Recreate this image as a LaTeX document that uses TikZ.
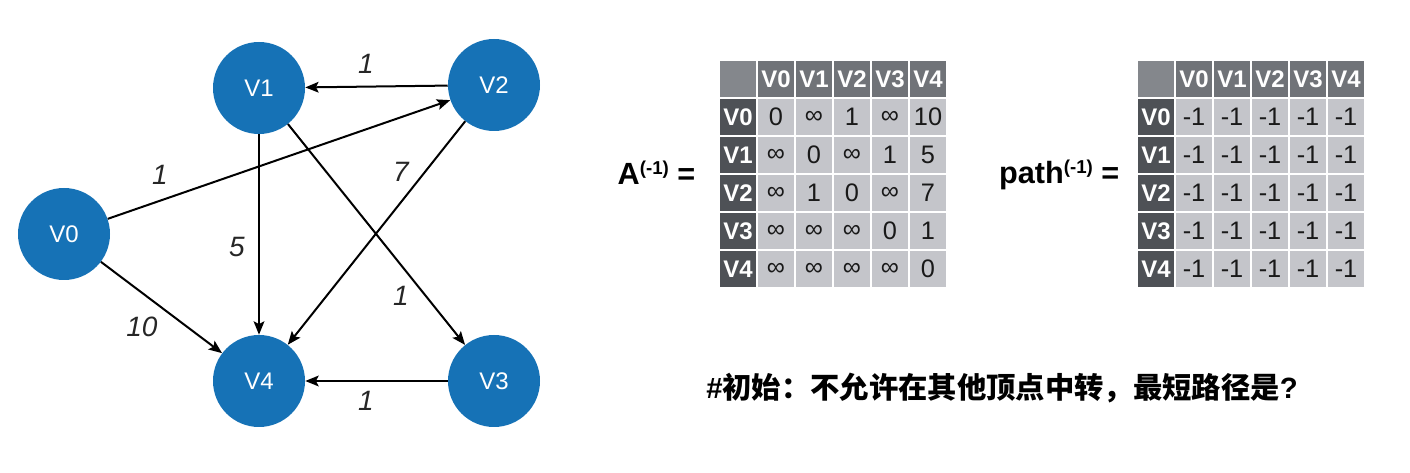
\documentclass[tikz,border=0pt]{standalone}
\usepackage{fontspec}
\setmainfont{Liberation Sans}
\newfontfamily\cjk{Noto Sans CJK SC}
\usetikzlibrary{arrows.meta}
\definecolor{nodeblue}{RGB}{22,114,182}
\definecolor{cornergray}{RGB}{132,135,140}
\definecolor{headgray}{RGB}{112,115,120}
\definecolor{rowgray}{RGB}{78,81,86}
\definecolor{datagray}{RGB}{196,197,202}
\tikzset{
  vtx/.style={circle, fill=nodeblue, minimum size=69pt, inner sep=0pt, text=white,
    font=\fontsize{18}{18}\selectfont},
  edge/.style={-{Stealth[length=10pt,width=8pt,inset=2pt]}, line width=1.5pt, black},
  wlab/.style={font=\fontsize{21}{21}\selectfont\itshape, text=black!85},
  cellbase/.style={rectangle, minimum size=28.5pt, inner sep=0pt, outer sep=0pt, draw=white, line width=1.1pt},
  cornercell/.style={cellbase, fill=cornergray},
  headcell/.style={cellbase, fill=headgray, text=white, font=\fontsize{18}{18}\selectfont\bfseries},
  rowcell/.style={cellbase, fill=rowgray, text=white, font=\fontsize{18}{18}\selectfont\bfseries},
  datacell/.style={cellbase, fill=datagray, text=black!90, font=\fontsize{19}{19}\selectfont},
  eqlab/.style={font=\fontsize{23}{23}\selectfont\bfseries, anchor=base east},
}
\newcommand\inft{∞}
\newcommand\supm{\raisebox{7.5pt}{\fontsize{14}{14}\selectfont(-1)}}
\begin{document}
\begin{tikzpicture}[x=0.75pt,y=-0.75pt]
\useasboundingbox (0,0) rectangle (1410,473);
% graph nodes
\node[vtx] (V0) at (64,234) {V0};
\node[vtx] (V1) at (259,88) {V1};
\node[vtx] (V2) at (494,85) {V2};
\node[vtx] (V3) at (494,381) {V3};
\node[vtx] (V4) at (259,381) {V4};
% edges
\draw[edge] (V2) -- (V1);
\draw[edge] (V0) -- (V2);
\draw[edge] (V1) -- (V4);
\draw[edge] (V2) -- (V4);
\draw[edge] (V1) -- (V3);
\draw[edge] (V0) -- (V4);
\draw[edge] (V3) -- (V4);
% weights
\node[wlab] (w21) at (366,64) {1};
\node[wlab] (w02) at (160,175) {1};
\node[wlab] (w14) at (237,247) {5};
\node[wlab] (w24) at (401,172) {7};
\node[wlab] (w13) at (401,296) {1};
\node[wlab] (w04) at (142,327) {10};
\node[wlab] (w34) at (366,401) {1};
% labels of matrices
\node[eqlab] (Alab) at (700,185) {A\supm\ =};
\node[eqlab] (Plab) at (1124,184) {path\supm\ =};
% matrix A
\node[cornercell] (A-0-0) at (738,79) {};
\foreach \c in {1,...,5}{
  \pgfmathtruncatemacro{\n}{\c-1}
  \node[headcell] (A-0-\c) at ({738+38*\c},79) {V\n};
  \node[rowcell] (A-\c-0) at (738,{79+38*\c}) {V\n};
}
\foreach \r/\vals in {1/{0,\inft,1,\inft,10},2/{\inft,0,\inft,1,5},3/{\inft,1,0,\inft,7},4/{\inft,\inft,\inft,0,1},5/{\inft,\inft,\inft,\inft,0}}{
  \foreach \v [count=\c] in \vals {
    \node[datacell] (A-\r-\c) at ({738+38*\c},{79+38*\r}) {\v};
  }
}
% matrix path
\node[cornercell] (P-0-0) at (1156,79) {};
\foreach \c in {1,...,5}{
  \pgfmathtruncatemacro{\n}{\c-1}
  \node[headcell] (P-0-\c) at ({1156+38*\c},79) {V\n};
  \node[rowcell] (P-\c-0) at (1156,{79+38*\c}) {V\n};
}
\foreach \r in {1,...,5}{
  \foreach \c in {1,...,5}{
    \node[datacell] (P-\r-\c) at ({1156+38*\c},{79+38*\r}) {-1};
  }
}
% caption
\node[anchor=west, font=\fontsize{22}{22}\selectfont\bfseries, inner sep=0pt] (cap) at (706,388) {\#{\cjk\bfseries 初始：不允许在其他顶点中转，最短路径是}?};
\end{tikzpicture}
\end{document}
